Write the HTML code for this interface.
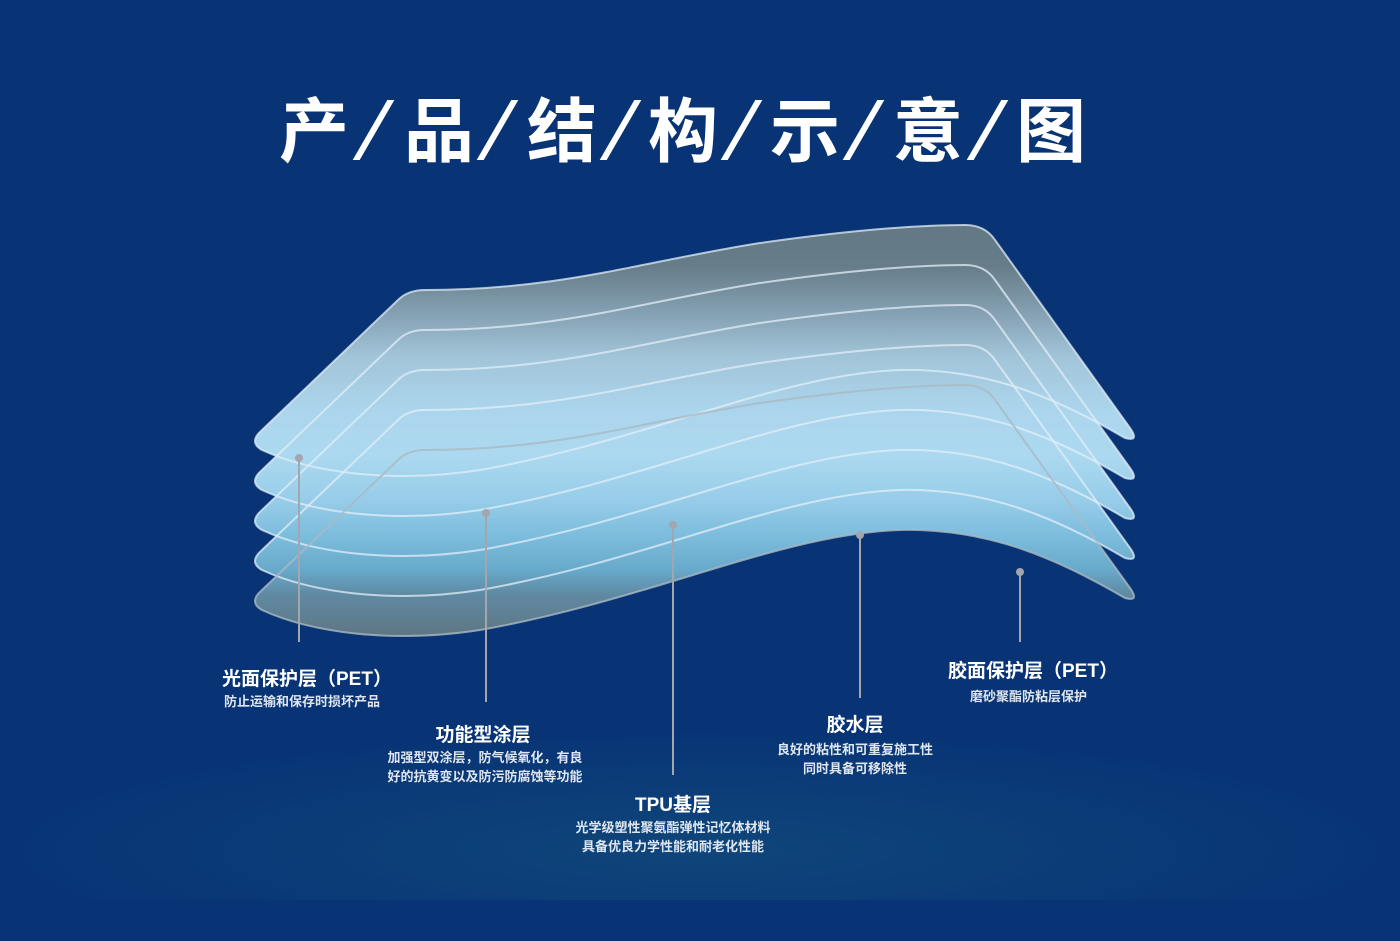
<!DOCTYPE html>
<html><head><meta charset="utf-8">
<style>
html,body{margin:0;padding:0}
body{width:1400px;height:941px;position:relative;overflow:hidden;background:#083476;font-family:"Liberation Sans","Noto Sans CJK SC",sans-serif;color:#fff}
.t{position:absolute;top:82px;font-size:70px;font-weight:bold;line-height:90px;font-family:"Noto Sans CJK SC",sans-serif}
.s{position:absolute;top:100px;width:7px;height:60px;background:#fff;transform:skewX(-30deg)}
.lb{position:absolute;font-weight:bold;font-size:19px;white-space:nowrap;font-family:"Liberation Sans","Noto Sans CJK SC",sans-serif}
.sb{position:absolute;font-size:13px;line-height:19px;color:#dfe6f0;white-space:nowrap;font-weight:bold;font-family:"Noto Sans CJK SC",sans-serif}
.c{text-align:center}
</style></head><body>
<div style="position:absolute;left:0;top:700px;width:1400px;height:200px;background:radial-gradient(ellipse 50% 60% at 50% 75%,rgba(30,110,130,0.3),rgba(8,52,118,0))"></div>
<div class="t" style="left:279px">产</div><div class="s" style="left:370px"></div>
<div class="t" style="left:404px">品</div><div class="s" style="left:494px"></div>
<div class="t" style="left:527px">结</div><div class="s" style="left:617px"></div>
<div class="t" style="left:648px">构</div><div class="s" style="left:738px"></div>
<div class="t" style="left:770px">示</div><div class="s" style="left:860px"></div>
<div class="t" style="left:893px">意</div><div class="s" style="left:984px"></div>
<div class="t" style="left:1016px">图</div>

<svg width="1400" height="941" style="position:absolute;left:0;top:0">
<defs>
<linearGradient id="g" gradientUnits="userSpaceOnUse" x1="0" y1="225" x2="0" y2="635">
<stop offset="0" stop-color="#637884"/>
<stop offset="0.1" stop-color="#667c89"/>
<stop offset="0.22" stop-color="#86a2b4"/>
<stop offset="0.32" stop-color="#a2c4d8"/>
<stop offset="0.45" stop-color="#abd5ec"/>
<stop offset="0.56" stop-color="#acd9f0"/>
<stop offset="0.67" stop-color="#97cde9"/>
<stop offset="0.76" stop-color="#7cbcdc"/>
<stop offset="0.84" stop-color="#68aacb"/>
<stop offset="0.9" stop-color="#5f8aa3"/>
<stop offset="1" stop-color="#5f7684"/>
</linearGradient>
<path id="sh" d="M262,430 L398,300 Q408,290 425,290 C560,290 640,262 760,243 C860,229 920,225 965,225 Q985,225 995,240 L1130,428 Q1140,442 1125,438 C1060,400 990,368 900,370 C780,374 650,440 480,470 C390,484 310,472 262,450 Q248,442 262,430 Z"/>
<clipPath id="cp">
<use href="#sh"/>
<use href="#sh" y="40"/>
<use href="#sh" y="80"/>
<use href="#sh" y="120"/>
<use href="#sh" y="160"/>
</clipPath>
</defs>
<rect x="200" y="200" width="1000" height="460" fill="url(#g)" clip-path="url(#cp)"/>
<g stroke="rgba(225,238,248,0.75)" stroke-width="2" fill="none">
<use href="#sh"/>
<use href="#sh" y="40"/>
<use href="#sh" y="80"/>
<use href="#sh" y="120"/>
<use href="#sh" y="160" stroke="rgba(170,185,195,0.8)"/>
</g>
<g stroke="#a3a7ad" stroke-width="2" fill="#a3a7ad">
<line x1="299" y1="458" x2="299" y2="642"/><circle cx="299" cy="458" r="3"/>
<line x1="486" y1="513" x2="486" y2="702"/><circle cx="486" cy="513" r="3"/>
<line x1="673" y1="525" x2="673" y2="775"/><circle cx="673" cy="525" r="3"/>
<line x1="860" y1="535" x2="860" y2="698"/><circle cx="860" cy="535" r="3"/>
<line x1="1020" y1="572" x2="1020" y2="642"/><circle cx="1020" cy="572" r="3"/>
</g>
</svg>

<div class="lb" style="left:222px;top:664px">光面保护层（PET）</div>
<div class="sb" style="left:224px;top:691px">防止运输和保存时损坏产品</div>
<div class="lb c" style="left:383px;top:720px;width:200px">功能型涂层</div>
<div class="sb c" style="left:370px;top:747px;width:230px">加强型双涂层，防气候氧化，有良<br>好的抗黄变以及防污防腐蚀等功能</div>
<div class="lb c" style="left:573px;top:790px;width:200px">TPU基层</div>
<div class="sb c" style="left:553px;top:817px;width:240px">光学级塑性聚氨酯弹性记忆体材料<br>具备优良力学性能和耐老化性能</div>
<div class="lb c" style="left:755px;top:710px;width:200px">胶水层</div>
<div class="sb c" style="left:745px;top:739px;width:220px">良好的粘性和可重复施工性<br>同时具备可移除性</div>
<div class="lb" style="left:948px;top:656px">胶面保护层（PET）</div>
<div class="sb" style="left:970px;top:686px">磨砂聚酯防粘层保护</div>
</body></html>
